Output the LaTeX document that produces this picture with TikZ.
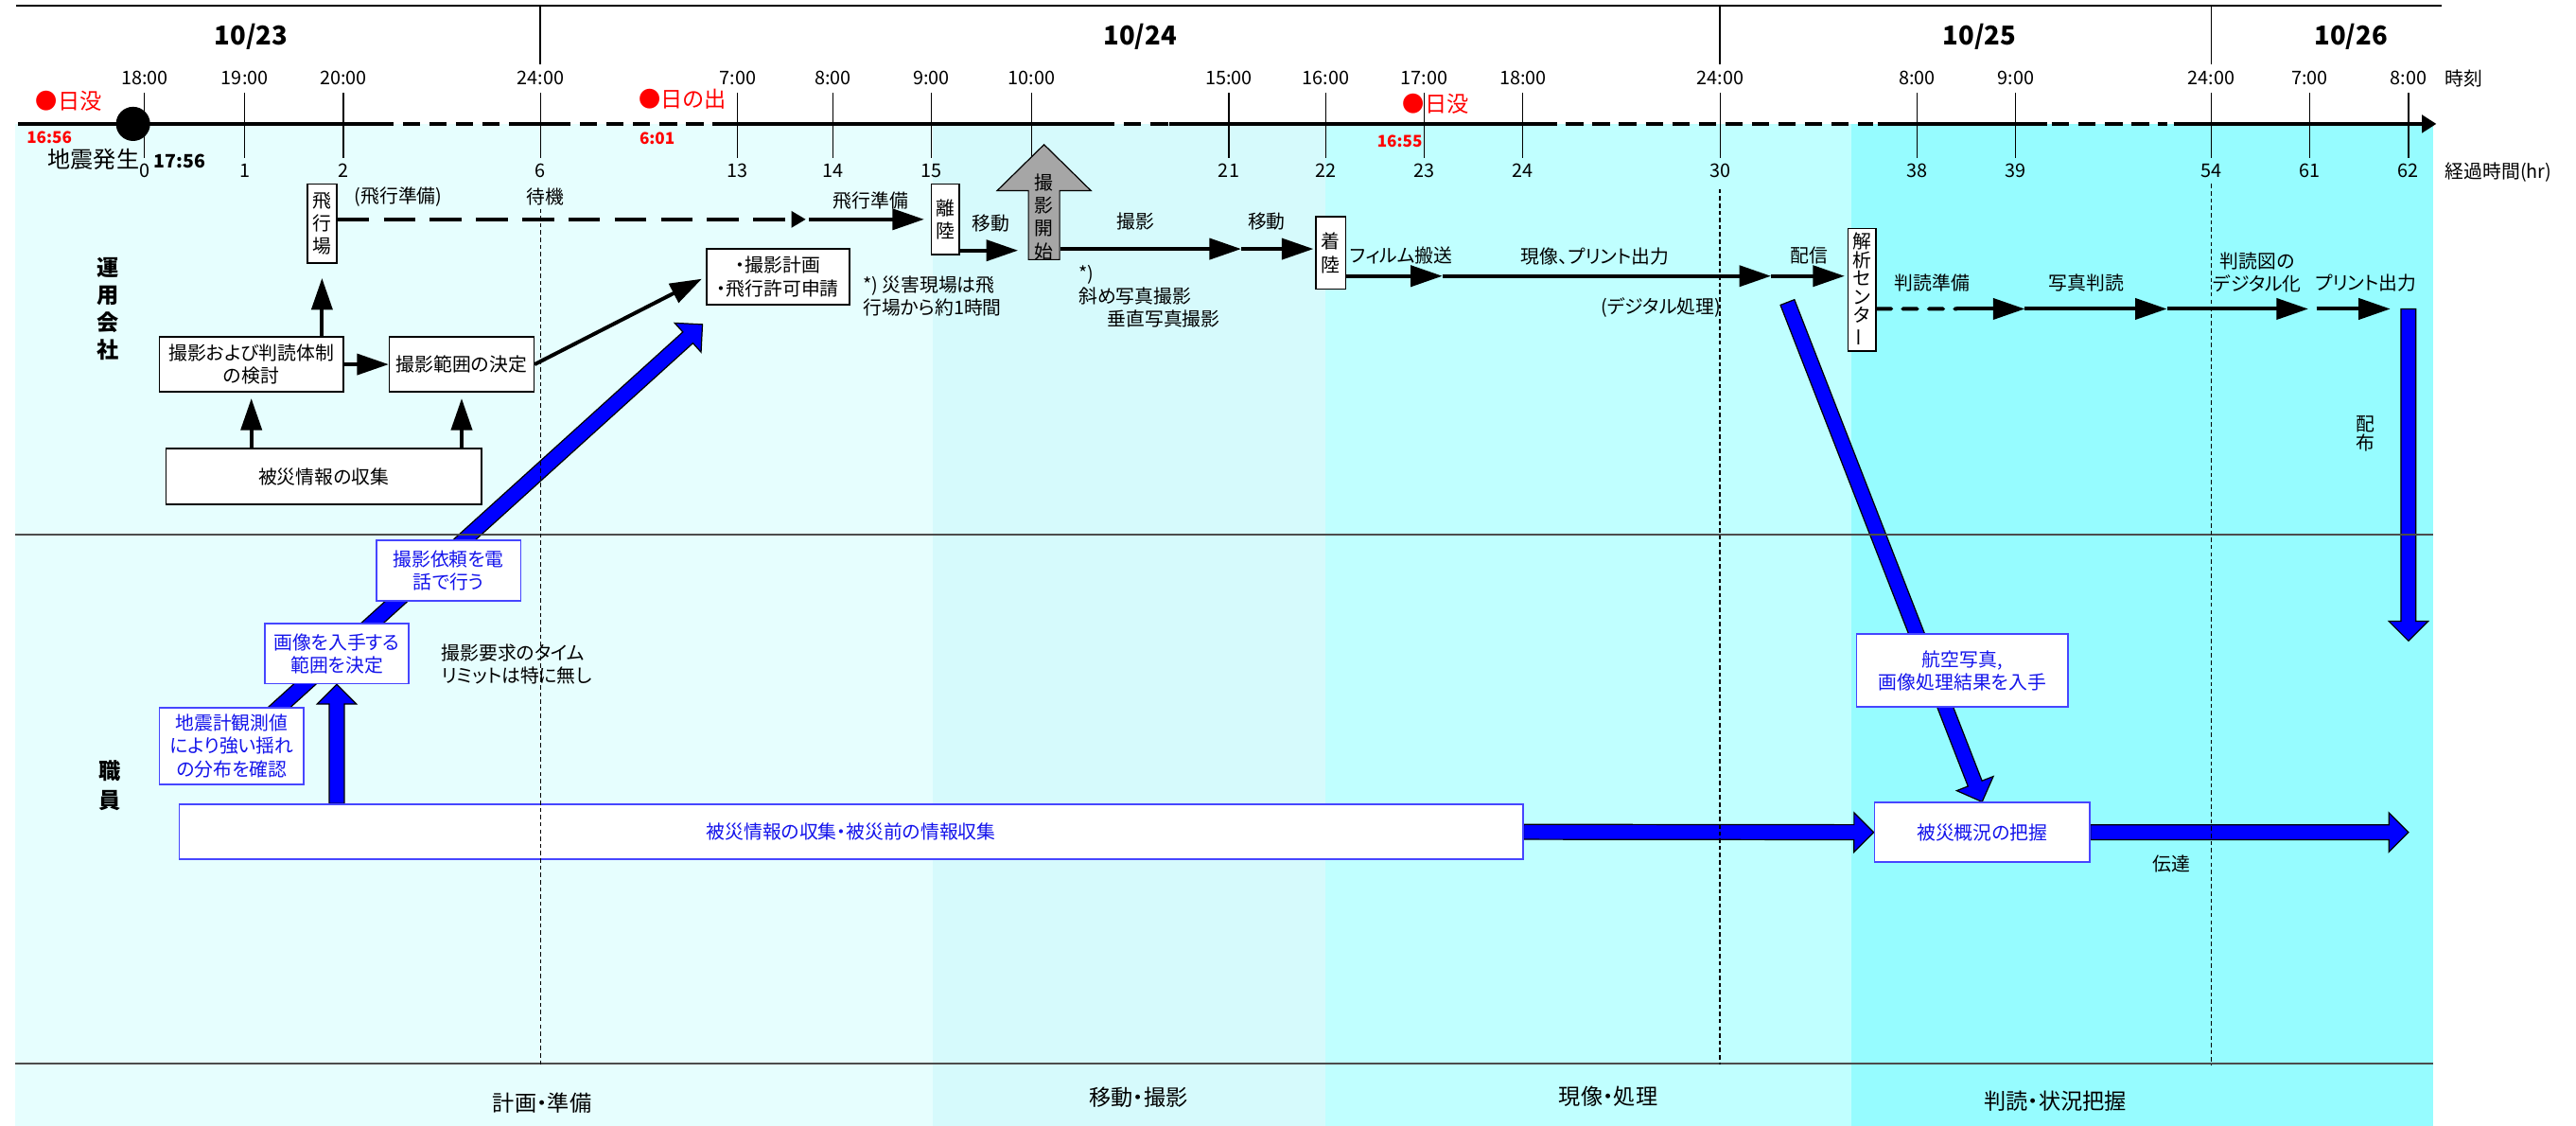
\documentclass[tikz,border=0pt]{standalone}
\usepackage{fontspec}
\setmainfont[RawFeature=+palt]{Noto Sans CJK JP}
\usetikzlibrary{arrows.meta,calc}
\pgfdeclarelayer{under}
\pgfsetlayers{under,main}
\definecolor{zoneA}{RGB}{230,254,254}
\definecolor{zoneB}{RGB}{214,250,252}
\definecolor{zoneC}{RGB}{192,255,255}
\definecolor{zoneD}{RGB}{150,252,255}
\definecolor{staffblue}{RGB}{20,20,235}
\definecolor{boxblue}{RGB}{70,70,255}
\newcommand{\bluearrow}[2]{%
	\coordinate (ba) at ($(#2)!6.8pt!(#1)$);
	\filldraw[fill=blue, draw=black, line width=0.4pt] ($(#1)!2.6pt!90:(#2)$) -- ($(ba)!2.6pt!90:(#2)$) -- ($(ba)!6.8pt!90:(#2)$) -- (#2)
		-- ($(ba)!6.8pt!-90:(#2)$) -- ($(ba)!2.6pt!-90:(#2)$) -- ($(#1)!2.6pt!-90:(#2)$) -- cycle;}

\begin{document}
\begin{tikzpicture}[x=0.02cm, y=-0.02cm,
	every node/.style={font=\fontsize{6.5}{7.9}\selectfont, inner sep=0pt},
	opbox/.style={draw, fill=white, line width=0.5pt, align=center},
	staffbox/.style={draw=boxblue, fill=white, line width=0.6pt, align=center, text=staffblue},
	flowarr/.style={line width=1.3pt, -{Triangle[length=11pt,width=7.2pt]}},
	waitarr/.style={line width=1.3pt, dash pattern=on 11pt off 5pt, -{Triangle[length=5pt,width=5.5pt]}},
	dasharr/.style={line width=1.3pt, dash pattern=on 5pt off 4pt, line cap=round},
	sunset/.style={text=red, font=\fontsize{7.6}{8}\selectfont, anchor=west},
	redtime/.style={text=red, font=\fontsize{5.6}{6}\selectfont\bfseries},
	lane/.style={align=center, font=\fontsize{7.6}{9.6}\selectfont\bfseries},
	phase/.style={font=\fontsize{7.6}{8}\selectfont}]
	\useasboundingbox (0,0) rectangle (1568,685);
	\begin{pgfonlayer}{under}
		\foreach \a/\b/\c in {9.5/568/zoneA, 568/807/zoneB, 807/1127/zoneC, 1127/1481/zoneD}
			\fill[\c] (\a,75.4) rectangle (\b,685);
	\end{pgfonlayer}
	\draw[gray!60!black, line width=0.6pt] (9.5,325.5) -- (1481,325.5);
	\draw[gray!60!black, line width=0.6pt] (9.5,647) -- (1481,647);

	\draw[line width=0.65pt] (10,3.3) -- (1486,3.3);
	\foreach \x/\d in {153/{10/23}, 694/{10/24}, 1205/{10/25}, 1431/{10/26}}
		\node[font=\fontsize{9}{10}\selectfont\bfseries] (d\x) at (\x,22.6) {\d};
	\foreach \x in {329, 1047, 1346}
		\draw[line width=0.6pt] (\x,3.3) -- (\x,39);

	\foreach \a/\b in {11/229, 312/347, 443/668, 712/937, 1143/1246}
		\draw[line width=1.2pt] (\a,75.4) -- (\b,75.4);
	\foreach \a/\b in {229/312, 353/443, 668/712, 937/1140, 1249/1319}
		\draw[line width=1.2pt, dash pattern=on 6pt off 3.2pt] (\a,75.4) -- (\b,75.4);
	\draw[line width=1.2pt, -{Triangle[length=5pt,width=6pt]}] (1323,75.4) -- (1483,75.4);
	\foreach \x/\t/\e in {88/18:00/0, 149/19:00/1, 209/20:00/2, 329/24:00/6, 449/7:00/13, 507/8:00/14, 567/9:00/15, 628/10:00/{}, 748/15:00/21, 807/16:00/22, 867/17:00/23, 927/18:00/24, 1047/24:00/30, 1167/8:00/38, 1227/9:00/39, 1346/24:00/54, 1406/7:00/61, 1466/8:00/62} {
		\draw[line width=0.4pt] (\x,56.6) -- (\x,96);
		\node (t\x) at (\x,47.6) {\t};
		\node (e\x) at (\x,104) {\e};
	}
	\node[anchor=west] (clock) at (1488,47.9) {時刻};
	\node[anchor=west] (elapsed) at (1488,104.6) {経過時間(hr)};

	\node[circle, fill, minimum size=0.416cm] (eq) at (81,75.4) {};
	\node[font=\fontsize{7.9}{8}\selectfont] (quake) at (57,97) {地震発生};
	\node[font=\fontsize{6.4}{7}\selectfont\bfseries] (quaketime) at (109.5,98) {17:56};
	\node[sunset] (sunsetA) at (21.5,61.5) {●日没};
	\node[redtime] (sunsetAt) at (30,83.5) {16:56};
	\node[sunset] (sunrise) at (388.5,60.5) {●日の出};
	\node[redtime] (sunriset) at (400,84) {6:01};
	\node[sunset] (sunsetB) at (853.5,63) {●日没};
	\node[redtime] (sunsetBt) at (852,86) {16:55};

	\node[lane] (opco) at (65.6,188) {運\\用\\会\\社};
	\node[lane, font=\fontsize{7.6}{10.2}\selectfont\bfseries] (staff) at (67,478) {職\\員};

	\node[opbox, minimum width=0.36cm, minimum height=0.96cm] (hikojo) at (196,136) {飛\\行\\場};
	\node[opbox, minimum width=2.24cm, minimum height=0.67cm] (kento) at (153,221.75) {撮影および判読体制\\の検討};
	\node[opbox, minimum width=1.76cm, minimum height=0.67cm] (hani) at (281,221.75) {撮影範囲の決定};
	\node[opbox, minimum width=3.84cm, minimum height=0.68cm] (joho) at (197,290) {被災情報の収集};
	\node[opbox, minimum width=1.74cm, minimum height=0.68cm] (keikaku) at (473.5,168.5) {・撮影計画\\・飛行許可申請};
	\node[opbox, minimum width=0.34cm, minimum height=0.86cm] (ririku) at (575.5,133.5) {離\\陸};
	\node[opbox, minimum width=0.36cm, minimum height=0.88cm] (chakuriku) at (810,154) {着\\陸};
	\node[opbox, minimum width=0.34cm, minimum height=1.49cm, font=\fontsize{6.5}{6.4}\selectfont] (kaiseki) at (1133.5,176.25) {解\\析\\セ\\ン\\タ\\\rotatebox[origin=c]{90}{ー}};

	\filldraw[fill=gray!70, draw=black, line width=0.4pt] (626,158) -- (626,116) -- (607,116) -- (635.5,88) -- (664,116) -- (645,116) -- (645,158) -- cycle;
	\node[align=center, minimum width=0.38cm, font=\fontsize{6.5}{8}\selectfont] (start) at (635.5,132) {撮\\影\\開\\始};

	\node[staffbox, minimum width=1.76cm, minimum height=0.94cm] (jishin) at (141,454) {地震計観測値\\により強い揺れ\\の分布を確認};
	\node[staffbox, minimum width=1.76cm, minimum height=0.73cm] (gazo) at (205,397.75) {画像を入手する\\範囲を決定};
	\node[staffbox, minimum width=1.76cm, minimum height=0.73cm] (irai) at (273,347.25) {撮影依頼を電\\話で行う};
	\node[staffbox, minimum width=16.36cm, minimum height=0.67cm] (kaisyu) at (518,506.25) {被災情報の収集・被災前の情報収集};
	\node[staffbox, minimum width=2.58cm, minimum height=0.88cm] (koku) at (1194.5,408) {航空写真,\\画像処理結果を入手};
	\node[staffbox, minimum width=2.62cm, minimum height=0.72cm] (gaikyo) at (1206.5,506.5) {被災概況の把握};

	\coordinate (prepA) at (490.5,133.5);
	\draw[waitarr] (hikojo.east |- ririku.west) -- (prepA);
	\draw[flowarr, shorten <=1.2pt, shorten >=2.3pt] (prepA) -- (ririku.west);
	\coordinate (moveA) at ($(ririku.south east)+(0,-3)$);
	\draw[flowarr, shorten >=3.4pt] (moveA) -- (start.west |- moveA);
	\coordinate (shootA) at ($(start.east)+(0,19.5)$);
	\coordinate (shootB) at (755.5,151.5);
	\draw[flowarr] (shootA) -- (shootB);
	\draw[flowarr, shorten >=0.6pt] (shootB) -- (chakuriku.west |- shootB);
	\coordinate (filmA) at ($(chakuriku.east)+(0,14)$);
	\coordinate (filmB) at (878,168);
	\coordinate (devB) at (1078,168);
	\draw[flowarr] (filmA) -- (filmB);
	\draw[flowarr] (filmB) -- (devB);
	\draw[flowarr, shorten >=1pt] (devB) -- (kaiseki.west |- devB);
	\coordinate (readA) at ($(kaiseki.east)+(0,11.75)$);
	\coordinate (readB) at (1191,188);
	\coordinate (readC) at (1232.5,188);
	\coordinate (readD) at (1319,188);
	\coordinate (readE) at (1405,188);
	\coordinate (printB) at (1455,188);
	\draw[dasharr] (readA) -- (readB);
	\draw[flowarr] (readB) -- (readC);
	\draw[flowarr] (readC) -- (readD);
	\draw[flowarr] (readD) -- (readE);
	\draw[flowarr, shorten <=2.8pt] (readE) -- (printB);

	\draw[flowarr] (kento.east) -- (hani.west);
	\draw[flowarr, shorten >=5pt] (hikojo.south |- kento.north) -- (hikojo.south);
	\draw[flowarr, shorten >=2pt] (kento.south |- joho.north) -- (kento.south);
	\draw[flowarr, shorten >=2pt] (hani.south |- joho.north) -- (hani.south);
	\draw[flowarr, shorten >=1.5pt] (hani.east) -- (keikaku.west);

	\node (prepnote) at (242.5,120) {(飛行準備)};
	\node (waitnote) at (332,120) {待機};
	\node (prepB) at (530,122) {飛行準備};
	\node (moveAl) at (603,136) {移動};
	\node (shootl) at (691,135) {撮影};
	\node (moveBl) at (771,135) {移動};
	\node (filml) at (853,155.5) {フィルム搬送};
	\node (devl) at (971,156) {現像、プリント出力};
	\node (digl) at (1011,187) {(デジタル処理)};
	\node (sendl) at (1101,155.5) {配信};
	\node (readl) at (1176,172) {判読準備};
	\node (photol) at (1270,172) {写真判読};
	\node[align=center] (digitl) at (1374,166) {判読図の\\デジタル化};
	\node (printl) at (1440,172) {プリント出力};
	\node[align=center, font=\fontsize{6.5}{6.8}\selectfont] (haifu) at (1440,264) {配\\布};
	\node[align=left] (sitenote) at (567.5,180.5) {*) 災害現場は飛\\行場から約1時間};
	\node[align=left] (shotnote) at (699.5,180.5) {*)\\斜め写真撮影\\\hspace*{10pt}垂直写真撮影};
	\node[align=left] (limitnote) at (314.5,404) {撮影要求のタイム\\リミットは特に無し};
	\node (tell) at (1322,526) {伝達};

	\begin{pgfonlayer}{under}
		\coordinate (diagA) at ($(jishin.north)+(19,9.5)$);
		\coordinate (diagB) at ($(keikaku.south west)+(-2,11.5)$);
		\bluearrow{diagA}{diagB}
		\coordinate (upA) at (gazo.south |- kaisyu.north);
		\bluearrow{upA}{gazo.south}
		\bluearrow{kaisyu.east}{gaikyo.west}
		\coordinate (tellB) at (1466,506.5);
		\bluearrow{gaikyo.east}{tellB}
		\coordinate (distA) at (1088,184);
		\bluearrow{distA}{gaikyo.north}
		\coordinate (haifuA) at (1466,188);
		\coordinate (haifuB) at (1466,390);
		\bluearrow{haifuA}{haifuB}
	\end{pgfonlayer}

	\foreach \x/\y in {329/127, 1047/115, 1346/112}
		\draw[line width=0.5pt, dash pattern=on 1.5pt off 1pt] (\x,\y) -- (\x,648);

	\node[phase] (plan) at (330,671) {計画・準備};
	\node[phase] (flight) at (693,668) {移動・撮影};
	\node[phase] (develop) at (979,667) {現像・処理};
	\node[phase] (judge) at (1251,670) {判読・状況把握};
\end{tikzpicture}
\end{document}
